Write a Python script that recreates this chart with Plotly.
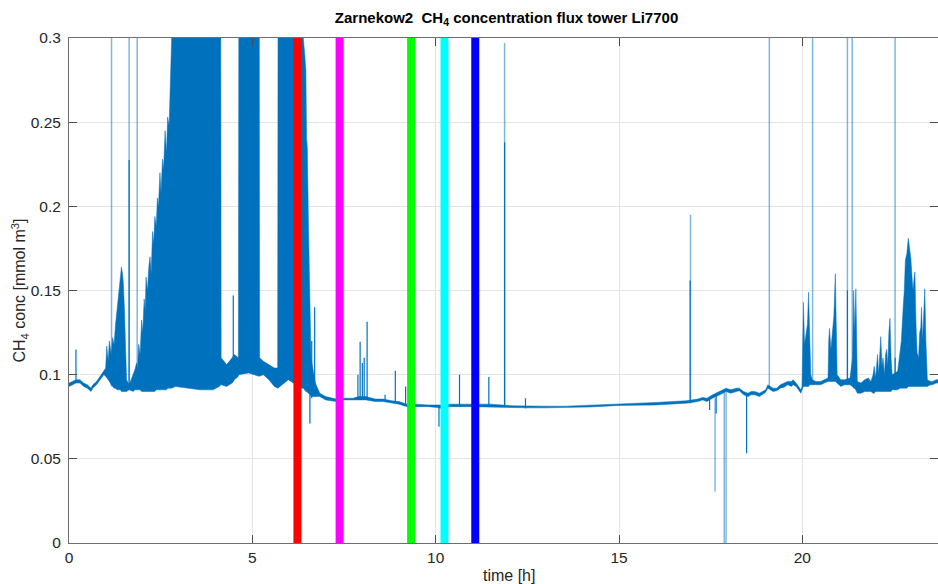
import plotly.graph_objects as go

# ---------------- data ----------------
# min / max envelope of the CH4 signal along the day
time_h = [0.00, 0.10, 0.19, 0.30, 0.40, 0.50, 0.60, 0.65, 0.75, 0.85, 0.95, 1.00,
          1.03, 1.07, 1.10, 1.15, 1.19, 1.23, 1.27, 1.31, 1.34, 1.38, 1.40, 1.43, 1.46, 1.48,
          1.51, 1.53, 1.55, 1.57, 1.64, 1.75, 1.80, 1.84, 1.87, 1.90, 1.94, 1.98, 2.01, 2.05,
          2.08, 2.10, 2.14, 2.18, 2.21, 2.24, 2.28, 2.31, 2.34, 2.38, 2.41, 2.44, 2.48, 2.51,
          2.55, 2.58, 2.62, 2.66, 2.69, 2.73, 2.77, 2.80, 2.90, 3.20, 3.57, 3.93, 4.10, 4.14,
          4.15, 4.30, 4.45, 4.51, 4.62, 4.63, 4.90, 5.19, 5.20, 5.30, 5.45, 5.60, 5.69, 5.70,
          5.98, 6.20, 6.34, 6.39, 6.43, 6.46, 6.48, 6.50, 6.53, 6.57, 6.60, 6.64, 6.68, 6.72,
          6.78, 6.84, 7.00, 7.29, 7.50, 7.75, 7.90, 8.10, 8.35, 8.57, 8.80, 9.00, 9.22, 9.47,
          9.80, 10.05, 10.13, 10.40, 11.00, 11.50, 12.10, 12.50, 13.00, 13.56, 14.20, 15.00,
          16.00, 16.83, 17.00, 17.15, 17.28, 17.40, 17.55, 17.65, 17.75, 17.85, 17.92, 18.05,
          18.20, 18.28, 18.40, 18.52, 18.60, 18.70, 18.83, 19.00, 19.06, 19.20, 19.30, 19.40,
          19.50, 19.60, 19.70, 19.75, 19.83, 19.96, 19.99, 20.01, 20.03, 20.06, 20.10, 20.14,
          20.17, 20.20, 20.23, 20.27, 20.37, 20.50, 20.60, 20.70, 20.72, 20.74, 20.78, 20.82,
          20.86, 20.90, 20.92, 20.95, 21.05, 21.15, 21.30, 21.37, 21.40, 21.43, 21.46, 21.48,
          21.50, 21.60, 21.70, 21.80, 21.87, 21.93, 21.96, 22.00, 22.05, 22.08, 22.11, 22.14,
          22.17, 22.20, 22.24, 22.27, 22.30, 22.33, 22.36, 22.39, 22.42, 22.45, 22.60, 22.66,
          22.70, 22.75, 22.78, 22.81, 22.85, 22.89, 22.93, 22.96, 23.00, 23.02, 23.05, 23.07,
          23.10, 23.13, 23.17, 23.20, 23.23, 23.25, 23.28, 23.31, 23.34, 23.37, 23.41, 23.50,
          23.55, 23.65, 23.70]

conc_low = [0.093, 0.094, 0.095, 0.095, 0.093, 0.092, 0.090, 0.092, 0.094, 0.097, 0.100, 0.099,
            0.098, 0.097, 0.096, 0.094, 0.093, 0.092, 0.092, 0.091, 0.091, 0.091, 0.091, 0.090, 0.090, 0.090,
            0.090, 0.090, 0.090, 0.090, 0.091, 0.090, 0.091, 0.091, 0.091, 0.091, 0.091, 0.090, 0.090, 0.090,
            0.090, 0.090, 0.090, 0.090, 0.090, 0.090, 0.090, 0.090, 0.090, 0.091, 0.091, 0.091, 0.091, 0.091,
            0.091, 0.091, 0.091, 0.091, 0.092, 0.092, 0.092, 0.092, 0.093, 0.092, 0.091, 0.091, 0.093, 0.094,
            0.094, 0.093, 0.095, 0.097, 0.099, 0.100, 0.101, 0.099, 0.099, 0.100, 0.097, 0.093, 0.092, 0.092,
            0.097, 0.094, 0.092, 0.092, 0.091, 0.090, 0.090, 0.090, 0.089, 0.088, 0.087, 0.087, 0.087, 0.087,
            0.087, 0.087, 0.085, 0.084, 0.085, 0.085, 0.085, 0.085, 0.084, 0.084, 0.083, 0.0825, 0.081, 0.081,
            0.081, 0.0805, 0.080, 0.081, 0.081, 0.081, 0.0805, 0.0803, 0.0803, 0.0803, 0.0808, 0.0817,
            0.082, 0.083, 0.0835, 0.084, 0.085, 0.084, 0.086, 0.087, 0.088, 0.089, 0.090, 0.089,
            0.090, 0.0905, 0.088, 0.087, 0.088, 0.088, 0.087, 0.0895, 0.092, 0.090, 0.0905, 0.092,
            0.0925, 0.094, 0.093, 0.094, 0.093, 0.089, 0.091, 0.092, 0.093, 0.093, 0.093, 0.093,
            0.093, 0.094, 0.094, 0.094, 0.094, 0.094, 0.095, 0.096, 0.096, 0.096, 0.096, 0.096,
            0.096, 0.096, 0.095, 0.095, 0.093, 0.094, 0.094, 0.093, 0.092, 0.092, 0.091, 0.090,
            0.089, 0.089, 0.090, 0.090, 0.090, 0.089, 0.089, 0.090, 0.090, 0.090, 0.090, 0.090,
            0.090, 0.090, 0.090, 0.090, 0.090, 0.090, 0.090, 0.090, 0.090, 0.091, 0.091, 0.092,
            0.092, 0.092, 0.092, 0.092, 0.092, 0.093, 0.093, 0.093, 0.093, 0.093, 0.093, 0.093,
            0.093, 0.093, 0.093, 0.093, 0.093, 0.093, 0.093, 0.093, 0.093, 0.093, 0.093, 0.094,
            0.094, 0.095, 0.095]

conc_high = [0.095, 0.096, 0.097, 0.097, 0.095, 0.094, 0.092, 0.094, 0.096, 0.099, 0.102, 0.104,
             0.117, 0.108, 0.120, 0.112, 0.122, 0.118, 0.130, 0.138, 0.146, 0.152, 0.160, 0.164, 0.160, 0.155,
             0.140, 0.127, 0.110, 0.097, 0.094, 0.100, 0.103, 0.107, 0.104, 0.118, 0.112, 0.1325, 0.125, 0.145,
             0.138, 0.158, 0.150, 0.165, 0.170, 0.160, 0.185, 0.178, 0.194, 0.188, 0.205, 0.200, 0.220, 0.208,
             0.228, 0.222, 0.245, 0.232, 0.253, 0.248, 0.277, 0.300, 0.300, 0.300, 0.300, 0.300, 0.300, 0.300,
             0.110, 0.106, 0.110, 0.112, 0.110, 0.300, 0.300, 0.300, 0.110, 0.108, 0.106, 0.104, 0.104, 0.300,
             0.300, 0.300, 0.300, 0.300, 0.290, 0.281, 0.240, 0.235, 0.190, 0.150, 0.110, 0.105, 0.100, 0.095,
             0.092, 0.089, 0.087, 0.0855, 0.086, 0.086, 0.087, 0.087, 0.0855, 0.0855, 0.0845, 0.084, 0.0825, 0.0825,
             0.082, 0.082, 0.082, 0.0825, 0.0825, 0.0825, 0.0815, 0.0813, 0.0813, 0.0813, 0.0818, 0.0827,
             0.0835, 0.0845, 0.085, 0.0855, 0.0865, 0.086, 0.088, 0.089, 0.090, 0.091, 0.092, 0.091,
             0.092, 0.092, 0.090, 0.089, 0.090, 0.090, 0.089, 0.091, 0.094, 0.092, 0.092, 0.094,
             0.095, 0.096, 0.096, 0.097, 0.095, 0.091, 0.093, 0.130, 0.143, 0.118, 0.125, 0.130,
             0.149, 0.118, 0.100, 0.097, 0.096, 0.096, 0.097, 0.098, 0.120, 0.1275, 0.115, 0.125,
             0.135, 0.160, 0.120, 0.100, 0.097, 0.097, 0.098, 0.110, 0.150, 0.125, 0.151, 0.105,
             0.096, 0.095, 0.097, 0.098, 0.096, 0.100, 0.105, 0.098, 0.112, 0.100, 0.115, 0.1226,
             0.105, 0.110, 0.100, 0.112, 0.115, 0.105, 0.125, 0.1335, 0.110, 0.100, 0.102, 0.111,
             0.120, 0.140, 0.150, 0.168, 0.172, 0.181, 0.175, 0.169, 0.155, 0.150, 0.158, 0.161,
             0.130, 0.113, 0.110, 0.125, 0.128, 0.140, 0.120, 0.135, 0.151, 0.120, 0.097, 0.096,
             0.096, 0.097, 0.097]

# isolated narrow spikes / dips in the main colour
spike_t = [0.19, 1.64, 4.48, 6.57, 6.62, 6.70, 7.88, 7.94, 8.00, 8.05, 8.13, 8.62, 8.90, 9.18,
           10.09, 10.65, 11.45, 11.88, 12.45, 16.94, 17.47, 17.65, 18.48, 21.23, 22.53]
spike_lo = [0.095, 0.091, 0.096, 0.071, 0.086, 0.087, 0.085, 0.085, 0.085, 0.085, 0.085, 0.084, 0.083, 0.082,
            0.069, 0.081, 0.081, 0.081, 0.080, 0.083, 0.079, 0.077, 0.0533, 0.094, 0.091]
spike_hi = [0.115, 0.2275, 0.147, 0.088, 0.120, 0.140, 0.100, 0.1196, 0.107, 0.110, 0.1315, 0.088, 0.1024, 0.093,
            0.081, 0.100, 0.0986, 0.238, 0.086, 0.156, 0.085, 0.088, 0.089, 0.150, 0.110]

# thin single-sample spikes / dips (drawn lighter, as in the reference)
pale_t = [1.16, 1.64, 1.86, 11.88, 16.95, 17.62, 17.87, 17.92, 19.10, 20.28, 21.23, 21.36, 22.53]
pale_lo = [0.093, 0.091, 0.091, 0.081, 0.083, 0.0305, 0.0, 0.0, 0.092, 0.094, 0.094, 0.093, 0.091]
pale_hi = [0.300, 0.300, 0.300, 0.297, 0.195, 0.086, 0.090, 0.090, 0.300, 0.300, 0.300, 0.300, 0.300]

# vertical event markers
event_t = [6.23, 7.38, 9.33, 10.24, 11.08]
event_colors = ["#FF0000", "#FF00FF", "#00FF00", "#00FFFF", "#0000FF"]

x_ticks = [0, 5, 10, 15, 20]
y_ticks = [0, 0.05, 0.1, 0.15, 0.2, 0.25, 0.3]
y_tick_text = ["0", "0.05", "0.1", "0.15", "0.2", "0.25", "0.3"]
x_range = [0, 23.7]
y_range = [0, 0.3]

BLUE = "#0072BD"
FONT = "Liberation Sans, Arial, sans-serif"

fig = go.Figure()

# envelope of the signal (min/max band) as a closed polygon
poly_x = time_h + time_h[::-1]
poly_y = conc_high + conc_low[::-1]
fig.add_trace(go.Scatter(x=poly_x, y=poly_y, mode="lines", fill="toself",
                         fillcolor=BLUE, line=dict(color=BLUE, width=0.5),
                         hoverinfo="skip", showlegend=False))


def segments(ts, los, his):
    xs, ys = [], []
    for t, lo, hi in zip(ts, los, his):
        xs += [t, t, None]
        ys += [lo, hi, None]
    return xs, ys


sx, sy = segments(spike_t, spike_lo, spike_hi)
fig.add_trace(go.Scatter(x=sx, y=sy, mode="lines", line=dict(color=BLUE, width=1.2),
                         hoverinfo="skip", showlegend=False))

px_, py_ = segments(pale_t, pale_lo, pale_hi)
fig.add_trace(go.Scatter(x=px_, y=py_, mode="lines",
                         line=dict(color="rgba(0,114,189,0.5)", width=1.5),
                         hoverinfo="skip", showlegend=False))

# event lines
for t, c in zip(event_t, event_colors):
    fig.add_trace(go.Scatter(x=[t, t], y=[y_range[0], y_range[1]], mode="lines",
                             line=dict(color=c, width=8), showlegend=False))

axis_common = dict(showline=True, linecolor="#6e6e6e", linewidth=1, mirror="ticks",
                   ticks="inside", ticklen=8, tickcolor="#4d4d4d",
                   showgrid=True, gridcolor="#e4e4e4", gridwidth=1, zeroline=False,
                   tickfont=dict(family=FONT, size=15.5, color="#262626"))

fig.update_xaxes(range=x_range, tickvals=x_ticks, ticktext=[str(v) for v in x_ticks],
                 **axis_common)
fig.update_yaxes(range=y_range, tickvals=y_ticks, ticktext=y_tick_text,
                 ticklabelstandoff=4,
                 title=dict(text="CH<sub>4</sub> conc [mmol m<sup>3</sup>]", standoff=0,
                            font=dict(family=FONT, size=16, color="#262626")),
                 **axis_common)

fig.update_layout(
    width=938, height=584,
    margin=dict(l=69, r=0, t=38, b=41, autoexpand=False),
    plot_bgcolor="white", paper_bgcolor="white",
    title=dict(text="<b>Zarnekow2  CH<sub>4</sub> concentration flux tower Li7700</b>",
               x=0.54, xanchor="center", y=1 - 18 / 584, yanchor="middle",
               font=dict(family=FONT, size=15, color="#000000")),
    annotations=[dict(text="time [h]", xref="paper", yref="paper",
                      x=(509 - 69) / 869, y=-(575 - 543) / 505,
                      xanchor="center", yanchor="middle", showarrow=False,
                      font=dict(family=FONT, size=16, color="#262626"))],
    showlegend=False,
)

fig.write_html("out.html")
